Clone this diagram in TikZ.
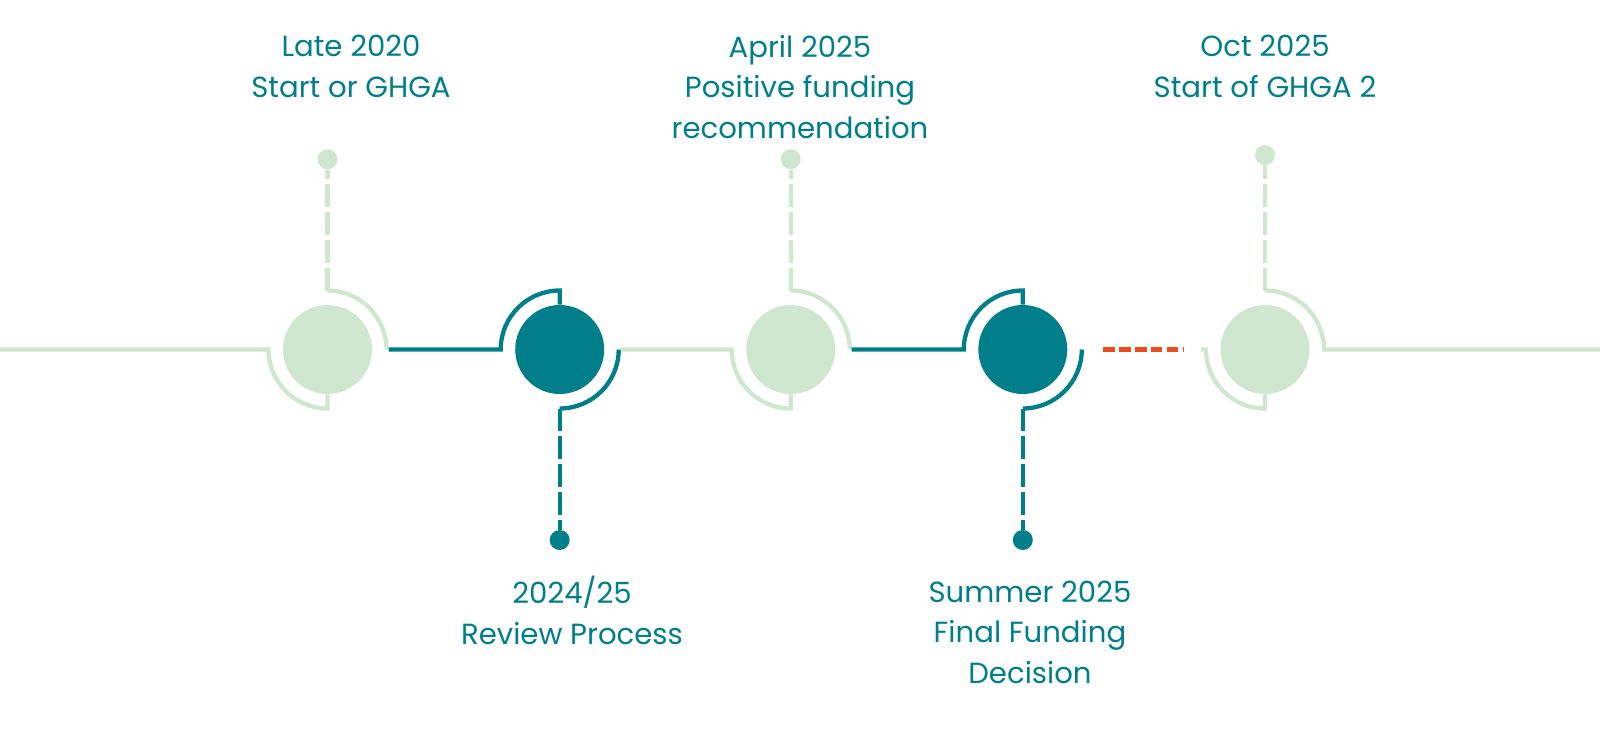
\documentclass[tikz,border=0pt]{standalone}
\usepackage{fontspec}
\setmainfont{Poppins}
\usepackage{tikz}
\usetikzlibrary{calc}
\definecolor{mint}{RGB}{207,231,207}
\definecolor{ghgateal}{RGB}{0,127,138}
\definecolor{flame}{RGB}{232,78,30}
\tikzset{
  milestone/.style = {circle, minimum size=1.78cm, inner sep=0pt},
  pin/.style = {circle, minimum size=0.4cm, inner sep=0pt},
  track/.style = {line width=0.086cm},
  stem/.style = {line width=0.086cm, dash pattern=on 0.46cm off 0.1cm},
  gap/.style = {line width=0.086cm, dash pattern=on 0.234cm off 0.086cm},
  datetext/.style = {text=ghgateal, align=center, inner sep=0pt, anchor=base,
    font=\fontsize{16.6}{23}\selectfont}
}
\begin{document}
\begin{tikzpicture}[x=0.02cm, y=-0.02cm]
\useasboundingbox (0,0) rectangle (1600,737);
\node[milestone, fill=mint] (c1) at (327.5,349.5) {};
\node[milestone, fill=ghgateal] (c2) at (559.7,349.5) {};
\node[milestone, fill=mint] (c3) at (790.7,349.5) {};
\node[milestone, fill=ghgateal] (c4) at (1022.8,349.5) {};
\node[milestone, fill=mint] (c5) at (1265,349.5) {};
\node[pin, fill=mint] (d1) at (327.5,159.3) {};
\node[pin, fill=ghgateal] (d2) at (559.7,540) {};
\node[pin, fill=mint] (d3) at (790.7,159.3) {};
\node[pin, fill=ghgateal] (d4) at (1022.8,540) {};
\node[pin, fill=mint] (d5) at (1265,155) {};
\coordinate (left) at (0,349.5);
\coordinate (right) at (1600,349.5);
\draw[track, mint] (left) -- ($(c1)+(-59,0)$) arc[start angle=180, end angle=90, radius=59] -- (c1.south);
\draw[track, mint] ($(c1)+(0,-59)$) arc[start angle=270, end angle=360, radius=59];
\draw[stem, mint] ($(c1)+(0,-59)$) -- (d1);
\draw[track, ghgateal] ($(c1)+(61,0)$) -- ($(c2)+(-59,0)$) arc[start angle=180, end angle=270, radius=59] -- (c2.north);
\draw[track, ghgateal] ($(c2)+(59,0)$) arc[start angle=0, end angle=90, radius=59];
\draw[stem, ghgateal] ($(c2)+(0,59)$) -- (d2);
\draw[track, mint] ($(c2)+(61,0)$) -- ($(c3)+(-59,0)$) arc[start angle=180, end angle=90, radius=59] -- (c3.south);
\draw[track, mint] ($(c3)+(0,-59)$) arc[start angle=270, end angle=360, radius=59];
\draw[stem, mint] ($(c3)+(0,-59)$) -- (d3);
\draw[track, ghgateal] ($(c3)+(61,0)$) -- ($(c4)+(-59,0)$) arc[start angle=180, end angle=270, radius=59] -- (c4.north);
\draw[track, ghgateal] ($(c4)+(59,0)$) arc[start angle=0, end angle=90, radius=59];
\draw[stem, ghgateal] ($(c4)+(0,59)$) -- (d4);
\draw[gap, flame] ($(c4)+(80,0)$) -- ($(c5)+(-81,0)$);
\draw[track, mint] ($(c5)+(-64,0)$) -- ($(c5)+(-59,0)$) arc[start angle=180, end angle=90, radius=59] -- (c5.south);
\draw[track, mint] ($(c5)+(0,-59)$) arc[start angle=270, end angle=360, radius=59] -- (right);
\draw[stem, mint] ($(c5)+(0,-59)$) -- (d5);
\node[datetext] (t1) at (351,97.3) {Late 2020\\Start or GHGA};
\node[datetext] (t2) at (572,644) {2024/25\\Review Process};
\node[datetext] (t3) at (800,138) {April 2025\\Positive funding\\recommendation};
\node[datetext] (t4) at (1030,683.3) {Summer 2025\\Final Funding\\Decision};
\node[datetext] (t5) at (1265,97.3) {Oct 2025\\Start of GHGA 2};
\end{tikzpicture}
\end{document}
